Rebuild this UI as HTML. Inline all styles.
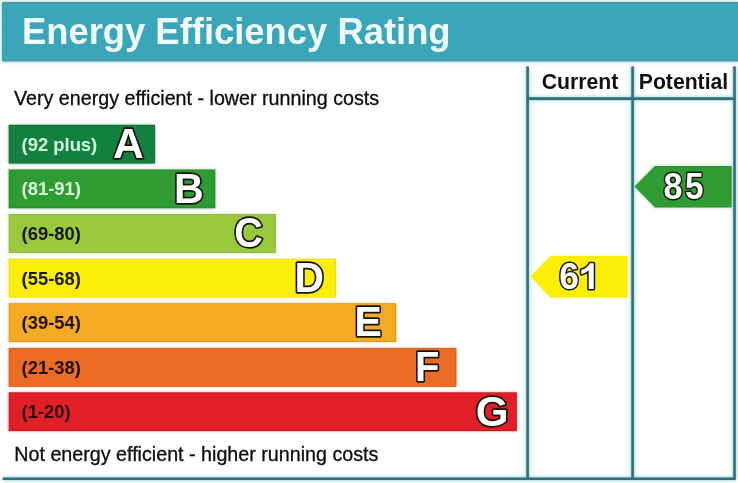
<!DOCTYPE html>
<html>
<head>
<meta charset="utf-8">
<title>Energy Efficiency Rating</title>
<style>
html,body{margin:0;padding:0;background:#ffffff;}
body{width:738px;height:483px;position:relative;overflow:hidden;font-family:"Liberation Sans",sans-serif;}
.abs{position:absolute;}
#wrap{position:absolute;left:0;top:0;width:738px;height:483px;will-change:transform;}
#title{left:21.9px;top:8.7px;font-size:36.4px;font-weight:bold;color:#eefcff;white-space:nowrap;line-height:46px;}
.colh{font-size:21.2px;font-weight:bold;color:#111;text-align:center;top:70px;line-height:24px;white-space:nowrap;}
.txt{font-size:19.7px;color:#0c0c0c;-webkit-text-stroke:0.3px #0c0c0c;white-space:nowrap;line-height:24px;left:14.5px;}
.rng{left:21.6px;font-size:18.4px;font-weight:bold;white-space:nowrap;line-height:22px;}
svg{position:absolute;left:0;top:0;}
.let{font-family:"Liberation Sans",sans-serif;font-weight:bold;fill:#ffffff;stroke:#14140c;stroke-width:3.4px;paint-order:stroke fill;stroke-linejoin:round;}
.num{font-family:"Liberation Sans",sans-serif;font-weight:bold;fill:#ffffff;stroke:#14140c;stroke-width:3px;paint-order:stroke fill;stroke-linejoin:round;}
</style>
</head>
<body><div id="wrap">
<svg width="738" height="483" viewBox="0 0 738 483">
<defs>
<filter id="bl" x="-5%" y="-5%" width="110%" height="110%"><feGaussianBlur stdDeviation="1.6"/></filter>
<g id="shapes">
<rect x="2" y="2" width="737" height="59.6" rx="1.5" fill="#4f98a6"/>
<rect x="2.6" y="3.9" width="737" height="55.7" fill="#3ba5b9"/>
<g stroke="#356e76" stroke-width="2.6" stroke-linecap="round" fill="none">
<line x1="527.6" y1="67.6" x2="527.6" y2="478.7"/>
<line x1="632.6" y1="67.6" x2="632.6" y2="478.7"/>
<line x1="734.5" y1="67.6" x2="734.5" y2="478.7"/>
<line x1="527.6" y1="98.6" x2="734.5" y2="98.6"/>
<line x1="3.8" y1="478.7" x2="734.5" y2="478.7"/>
</g>
<rect x="8.7" y="124.8" width="146.4" height="38.8" fill="#116f37"/>
<rect x="9.6" y="125.7" width="144.6" height="37.0" fill="#13803f"/>
<rect x="8.7" y="169.5" width="206.6" height="38.8" fill="#2a8a2e"/>
<rect x="9.6" y="170.4" width="204.8" height="37.0" fill="#2f9c33"/>
<rect x="8.7" y="214.1" width="267.1" height="38.8" fill="#8ab538"/>
<rect x="9.6" y="215.0" width="265.3" height="37.0" fill="#9bc93e"/>
<rect x="8.7" y="258.8" width="327.2" height="38.8" fill="#ecdc0c"/>
<rect x="9.6" y="259.7" width="325.4" height="37.0" fill="#fdee07"/>
<rect x="8.7" y="303.2" width="387.5" height="38.8" fill="#dc9922"/>
<rect x="9.6" y="304.1" width="385.7" height="37.0" fill="#f4ab23"/>
<rect x="8.7" y="348.0" width="447.7" height="38.8" fill="#cf6024"/>
<rect x="9.6" y="348.9" width="445.9" height="37.0" fill="#ea6c25"/>
<rect x="8.7" y="392.3" width="508.2" height="38.8" fill="#c41f26"/>
<rect x="9.6" y="393.2" width="506.4" height="37.0" fill="#e21f26"/>
<polygon points="530.6,276.5 550.6,256.1 627.6,256.1 627.6,297.4 550.6,297.4" fill="#fdee07"/>
<polygon points="634.5,186.6 654.9,166.1 731.7,166.1 731.7,207.6 654.9,207.6" fill="#2f9c33"/>
</g>
</defs>
<use href="#shapes" filter="url(#bl)" opacity="0.45"/>
<g filter="url(#bl)" opacity="0.3" stroke="#6fe6f4" stroke-width="6" fill="none">
<line x1="527.6" y1="67.6" x2="527.6" y2="478.7"/>
<line x1="632.6" y1="67.6" x2="632.6" y2="478.7"/>
<line x1="734.5" y1="67.6" x2="734.5" y2="478.7"/>
<line x1="527.6" y1="98.6" x2="734.5" y2="98.6"/>
<line x1="3.8" y1="478.7" x2="734.5" y2="478.7"/>
<rect x="2" y="2" width="737" height="59.6" stroke-width="3"/>
</g>
<use href="#shapes"/>
</svg>
<div id="title" class="abs">Energy Efficiency Rating</div>
<div class="abs colh" style="left:529px;width:102px">Current</div>
<div class="abs colh" style="left:634px;width:99px">Potential</div>
<div class="abs txt" style="top:85.8px;left:14px">Very energy efficient - lower running costs</div>
<div class="abs txt" style="top:441.9px;left:14.3px">Not energy efficient - higher running costs</div>
<div class="abs rng" style="top:133.7px;color:#d4fbe2">(92 plus)</div>
<div class="abs rng" style="top:178.4px;color:#dcf7dc">(81-91)</div>
<div class="abs rng" style="top:223.0px;color:#14180c">(69-80)</div>
<div class="abs rng" style="top:267.7px;color:#1a1a08">(55-68)</div>
<div class="abs rng" style="top:312.1px;color:#201408">(39-54)</div>
<div class="abs rng" style="top:356.9px;color:#26100a">(21-38)</div>
<div class="abs rng" style="top:401.2px;color:#2a0b0e">(1-20)</div>
<svg width="738" height="483" viewBox="0 0 738 483">
<text class="let" transform="translate(112.93,158.12) scale(1.014,1)" font-size="42.2">A</text>
<text class="let" transform="translate(173.95,202.67) scale(0.975,1)" font-size="42.2">B</text>
<text class="let" transform="translate(234.17,246.93) scale(0.942,1)" font-size="42.2">C</text>
<text class="let" transform="translate(294.56,291.67) scale(0.970,1)" font-size="42.2">D</text>
<text class="let" transform="translate(354.56,336.22) scale(0.971,1)" font-size="42.2">E</text>
<text class="let" transform="translate(415.02,381.02) scale(0.948,1)" font-size="42.2">F</text>
<text class="let" transform="translate(475.67,425.63) scale(1.001,1)" font-size="42.2">G</text>
<text class="num" transform="translate(559.20,289.05) scale(0.967,1)" font-size="36.6">6</text>
<text class="num" transform="translate(663.61,199.00) scale(0.935,1)" font-size="36.6">8</text>
<text class="num" transform="translate(685.07,198.81) scale(0.912,1)" font-size="36.6">5</text>
<path class="num" d="M593.70,289.10 L588.68,289.10 L588.68,270.57 Q585.93,273.09 581.24,274.30 L581.24,269.83 Q584.16,269.20 586.46,267.45 Q588.77,265.69 589.63,263.34 L593.70,263.34 Z"/>
</svg>
</div></body>
</html>
